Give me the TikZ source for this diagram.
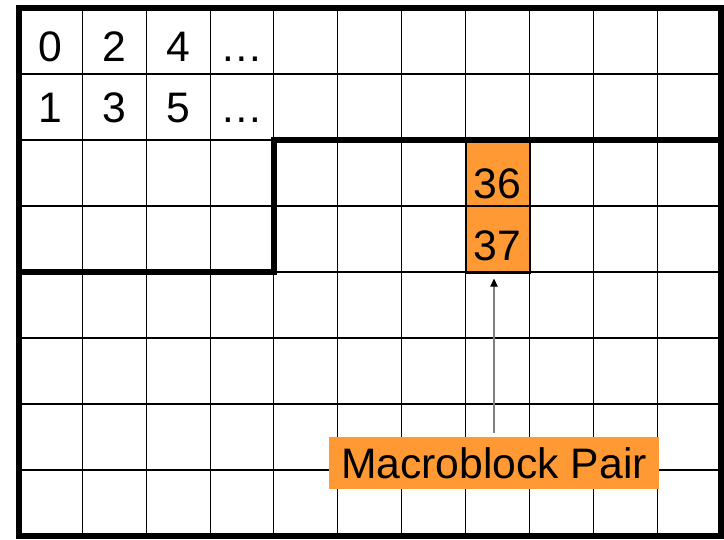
\documentclass[tikz,border=0pt]{standalone}
\usepackage{fontspec}
\setmainfont{Liberation Sans}
\usetikzlibrary{arrows.meta}
\definecolor{mbOrange}{RGB}{255,153,51}

\begin{document}
\begin{tikzpicture}[
    x=0.75pt, y=-0.75pt,
    gridline/.style={draw=black, line width=0.8pt},
    thickline/.style={draw=black, line width=4.5pt},
    mbcell/.style={fill=mbOrange, minimum width=47.9pt, minimum height=99pt, inner sep=0pt, anchor=north west},
    num/.style={anchor=base, font=\fontsize{32}{36}\selectfont, inner sep=0pt},
    tag/.style={fill=mbOrange, font=\fontsize{32}{36}\selectfont, minimum width=247.5pt, minimum height=39pt, inner sep=0pt},
    arrow/.style={-{Triangle[length=6pt, width=5.5pt, color=black]}, draw=gray, line width=0.8pt}
]
\useasboundingbox (0,0) rectangle (724,539);
\def\cw{63.86}
\def\rh{66}

% Macroblock pair
\node[mbcell] (pair) at ({18.5+7*\cw},140) {};

% Grid
\foreach \i in {1,...,10}
    \draw[gridline] ({18.5+\i*\cw},8) -- ({18.5+\i*\cw},536);
\foreach \j in {1,...,7}
    \draw[gridline] (18.5,{8+\j*\rh}) -- (721,{8+\j*\rh});

% Borders
\draw[thickline] (18.5,8) rectangle (721,536);
\draw[thickline] (18.5,272) -- ({18.5+4*\cw},272) -- ({18.5+4*\cw},140) -- (721,140);
\draw[black, line width=1.5pt] (pair.south west) rectangle (pair.north east);

% Numbers
\foreach \v [count=\c from 0] in {0,2,4,…}
    \node[num] (rowA\c) at ({18.5+(\c+0.5)*\cw},61) {\v};
\foreach \v [count=\c from 0] in {1,3,5,…}
    \node[num] (rowB\c) at ({18.5+(\c+0.5)*\cw},122) {\v};
\node[num] (n36) at ({18.5+7.5*\cw},198) {36};
\node[num] (n37) at ({18.5+7.5*\cw},260) {37};

% Label
\node[tag] (label) at (494,463) {Macroblock Pair};
\draw[arrow, shorten <=3pt, shorten >=4.5pt] (label.north) -- (label.north |- pair.south);

\end{tikzpicture}
\end{document}
